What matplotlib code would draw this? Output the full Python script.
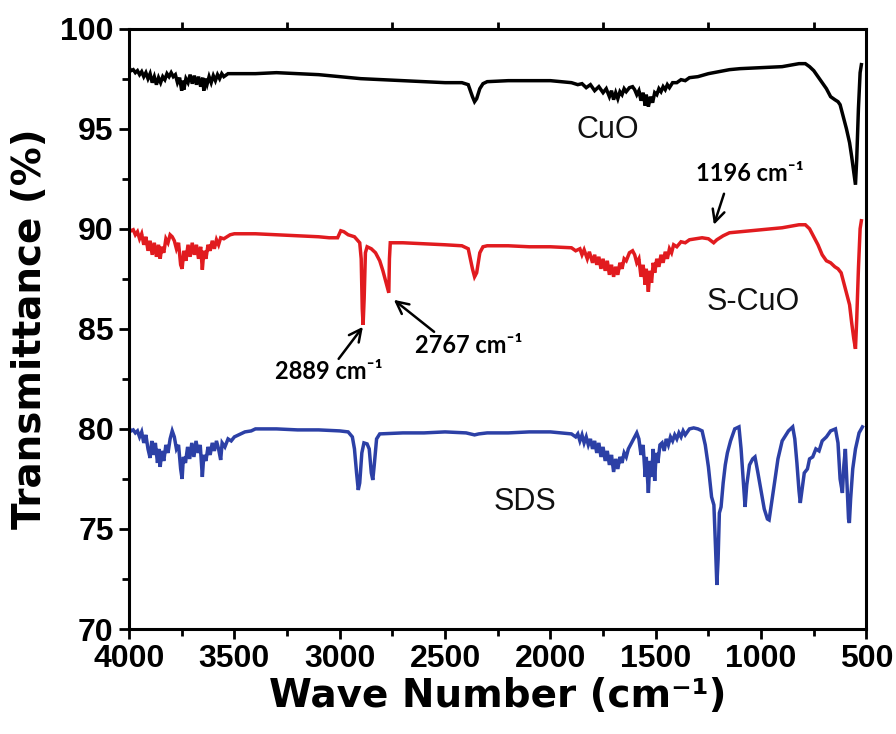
import matplotlib
matplotlib.use("Agg")
import matplotlib.pyplot as plt
from matplotlib.ticker import MultipleLocator

# FTIR spectra: (wave number cm-1, transmittance %)
cuo = [
    (4000, 98.05), (3990, 97.9), (3980, 97.95), (3970, 97.8), (3960, 97.9),
    (3950, 97.7), (3940, 97.85), (3930, 97.6), (3920, 97.8), (3910, 97.5),
    (3900, 97.75), (3890, 97.3), (3880, 97.6), (3870, 97.2), (3860, 97.55),
    (3850, 97.3), (3840, 97.6), (3830, 97.45), (3820, 97.75), (3810, 97.6),
    (3800, 97.8), (3790, 97.6), (3780, 97.7), (3770, 97.3), (3760, 97.55),
    (3750, 96.9), (3745, 97.4), (3740, 96.95), (3730, 97.5), (3720, 97.3),
    (3710, 97.7), (3700, 97.25), (3690, 97.65), (3680, 97.2), (3670, 97.6),
    (3660, 97.1), (3650, 97.55), (3645, 96.9), (3640, 97.5), (3630, 97.2),
    (3620, 97.6), (3610, 97.3), (3600, 97.65), (3590, 97.4), (3580, 97.7),
    (3570, 97.5), (3560, 97.75), (3550, 97.6), (3530, 97.75), (3500, 97.75),
    (3400, 97.75), (3300, 97.8), (3200, 97.75), (3100, 97.7), (3000, 97.6),
    (2900, 97.5), (2800, 97.45), (2700, 97.4), (2600, 97.35), (2500, 97.3),
    (2420, 97.3), (2390, 97.2), (2370, 96.6), (2360, 96.35), (2350, 96.5),
    (2335, 97.0), (2320, 97.25), (2300, 97.35), (2200, 97.4), (2100, 97.4),
    (2000, 97.4), (1950, 97.35), (1900, 97.3), (1870, 97.2), (1850, 97.25),
    (1830, 97.05), (1810, 97.2), (1790, 96.9), (1770, 97.1), (1750, 96.8),
    (1735, 97.0), (1720, 96.6), (1710, 96.9), (1700, 96.45), (1690, 96.8),
    (1680, 96.5), (1670, 96.85), (1660, 96.7), (1650, 97.0), (1640, 96.85),
    (1625, 97.05), (1610, 97.1), (1600, 96.95), (1590, 96.7), (1580, 96.9),
    (1570, 96.4), (1560, 96.8), (1550, 96.15), (1545, 96.7), (1535, 96.1),
    (1525, 96.6), (1515, 96.3), (1505, 96.8), (1495, 96.7), (1485, 97.0),
    (1475, 96.85), (1465, 97.1), (1455, 96.95), (1445, 97.2), (1435, 97.05),
    (1420, 97.3), (1400, 97.3), (1380, 97.45), (1360, 97.4), (1340, 97.55),
    (1300, 97.6), (1250, 97.75), (1200, 97.85), (1150, 97.95), (1100, 98.0),
    (1000, 98.05), (900, 98.1), (820, 98.25), (790, 98.25), (770, 98.1),
    (750, 97.9), (730, 97.6), (710, 97.3), (690, 97.0), (670, 96.6),
    (650, 96.45), (635, 96.35), (625, 96.2), (610, 95.6), (595, 95.0),
    (580, 94.3), (570, 93.6), (560, 92.8), (552, 92.2), (546, 93.5),
    (538, 96.0), (530, 97.8), (524, 98.2),
]

s_cuo = [
    (4000, 90.0), (3990, 89.9), (3980, 89.95), (3970, 89.7), (3960, 89.85),
    (3950, 89.5), (3940, 89.75), (3930, 89.2), (3920, 89.6), (3910, 88.9),
    (3900, 89.4), (3890, 88.7), (3880, 89.3), (3870, 88.6), (3860, 89.2),
    (3852, 88.5), (3845, 89.1), (3835, 88.8), (3825, 89.5), (3815, 89.3),
    (3805, 89.7), (3795, 89.6), (3785, 89.4), (3775, 89.0), (3765, 89.3),
    (3755, 88.2), (3748, 88.0), (3740, 88.9), (3730, 88.4), (3720, 89.2),
    (3710, 88.6), (3700, 89.3), (3690, 88.7), (3680, 89.2), (3670, 88.5),
    (3660, 89.1), (3652, 87.95), (3645, 88.9), (3635, 88.5), (3625, 89.2),
    (3615, 88.9), (3605, 89.4), (3595, 89.0), (3585, 89.45), (3575, 89.2),
    (3565, 89.55), (3550, 89.5), (3520, 89.7), (3500, 89.75), (3400, 89.75),
    (3300, 89.7), (3200, 89.65), (3100, 89.6), (3050, 89.55), (3010, 89.55),
    (2995, 89.9), (2980, 89.85), (2960, 89.7), (2930, 89.6), (2905, 89.3),
    (2898, 88.5), (2893, 86.0), (2889, 85.2), (2884, 86.5), (2878, 88.8),
    (2870, 89.1), (2850, 89.0), (2830, 88.8), (2810, 88.4), (2795, 87.9),
    (2780, 87.3), (2770, 86.9), (2767, 86.8), (2764, 88.5), (2760, 89.3),
    (2700, 89.3), (2600, 89.25), (2500, 89.2), (2420, 89.15), (2390, 89.0),
    (2370, 88.0), (2360, 87.6), (2350, 87.8), (2335, 88.8), (2320, 89.1),
    (2300, 89.15), (2200, 89.15), (2100, 89.1), (2000, 89.1), (1900, 89.05),
    (1880, 88.9), (1860, 89.0), (1850, 88.7), (1840, 88.95), (1825, 88.5),
    (1815, 88.85), (1800, 88.3), (1790, 88.7), (1780, 88.2), (1770, 88.6),
    (1760, 88.0), (1750, 88.5), (1740, 87.9), (1730, 88.4), (1720, 87.7),
    (1710, 88.2), (1700, 87.6), (1690, 88.1), (1680, 87.7), (1670, 88.3),
    (1660, 88.0), (1650, 88.5), (1640, 88.4), (1625, 88.8), (1610, 88.9),
    (1600, 88.7), (1590, 88.3), (1580, 88.5), (1570, 87.6), (1560, 88.2),
    (1550, 87.2), (1545, 88.0), (1535, 86.85), (1528, 87.9), (1520, 87.3),
    (1512, 88.3), (1505, 87.8), (1495, 88.5), (1485, 88.1), (1475, 88.7),
    (1465, 88.3), (1455, 88.85), (1445, 88.5), (1435, 89.0), (1425, 88.8),
    (1415, 89.2), (1400, 89.1), (1380, 89.35), (1360, 89.3), (1340, 89.45),
    (1310, 89.5), (1280, 89.55), (1250, 89.5), (1225, 89.3), (1210, 89.45),
    (1180, 89.65), (1150, 89.8), (1100, 89.85), (1000, 89.95), (900, 90.05),
    (820, 90.2), (790, 90.2), (770, 90.0), (750, 89.6), (730, 89.2),
    (710, 88.7), (690, 88.4), (670, 88.3), (650, 88.1), (635, 88.0),
    (620, 87.8), (605, 87.2), (590, 86.6), (580, 86.2), (570, 85.3),
    (560, 84.5), (552, 84.0), (546, 85.5), (538, 88.0), (530, 90.0),
    (524, 90.4),
]

sds = [
    (4000, 80.05), (3990, 79.9), (3980, 79.95), (3970, 79.8), (3960, 79.9),
    (3950, 79.6), (3940, 79.85), (3930, 79.3), (3920, 79.7), (3910, 79.0),
    (3900, 78.55), (3892, 79.4), (3885, 78.7), (3875, 79.3), (3865, 78.3),
    (3858, 79.0), (3852, 78.1), (3845, 78.9), (3835, 78.4), (3825, 79.2),
    (3815, 78.8), (3805, 79.5), (3795, 79.9), (3785, 79.6), (3775, 79.0),
    (3765, 79.2), (3755, 78.0), (3748, 77.5), (3742, 78.6), (3732, 78.3),
    (3722, 79.1), (3712, 78.5), (3702, 79.3), (3692, 78.6), (3682, 79.4),
    (3672, 78.8), (3662, 79.2), (3652, 77.6), (3645, 78.7), (3635, 78.4),
    (3625, 79.1), (3615, 78.7), (3605, 79.3), (3595, 78.9), (3585, 79.4),
    (3575, 79.0), (3565, 78.45), (3558, 79.3), (3545, 79.1), (3530, 79.5),
    (3515, 79.4), (3500, 79.6), (3480, 79.7), (3450, 79.85), (3420, 79.9),
    (3400, 80.0), (3300, 80.0), (3200, 79.95), (3100, 79.95), (3000, 79.9),
    (2960, 79.85), (2940, 79.6), (2930, 79.0), (2920, 77.8), (2912, 76.95),
    (2905, 77.3), (2895, 78.8), (2885, 79.3), (2870, 79.25), (2860, 79.0),
    (2850, 77.8), (2843, 77.45), (2836, 78.2), (2825, 79.5), (2810, 79.75),
    (2700, 79.8), (2600, 79.8), (2500, 79.85), (2400, 79.8), (2360, 79.7),
    (2340, 79.75), (2300, 79.8), (2200, 79.8), (2100, 79.85), (2000, 79.85),
    (1950, 79.8), (1900, 79.75), (1880, 79.6), (1870, 79.75), (1860, 79.4),
    (1850, 79.7), (1840, 79.3), (1830, 79.6), (1820, 79.2), (1810, 79.5),
    (1800, 79.0), (1790, 79.4), (1780, 78.8), (1770, 79.3), (1760, 78.6),
    (1750, 79.1), (1740, 78.4), (1730, 78.9), (1720, 78.2), (1710, 78.7),
    (1700, 77.85), (1690, 78.5), (1680, 78.0), (1670, 78.6), (1660, 78.3),
    (1650, 78.8), (1640, 78.6), (1630, 79.0), (1615, 79.3), (1600, 79.6),
    (1590, 79.8), (1580, 79.5), (1570, 78.7), (1560, 79.2), (1550, 77.6),
    (1545, 78.6), (1535, 76.8), (1528, 78.4), (1520, 77.6), (1512, 79.0),
    (1505, 77.4), (1498, 78.8), (1490, 78.3), (1480, 79.2), (1470, 79.3),
    (1460, 78.9), (1450, 79.5), (1440, 79.2), (1430, 79.6), (1420, 79.4),
    (1410, 79.7), (1400, 79.5), (1390, 79.8), (1380, 79.6), (1370, 79.9),
    (1360, 79.7), (1340, 80.0), (1320, 80.05), (1300, 80.0), (1280, 79.9),
    (1265, 79.2), (1250, 78.1), (1235, 76.6), (1224, 76.2), (1216, 74.0),
    (1210, 72.2), (1204, 73.5), (1198, 75.8), (1190, 76.1), (1180, 77.3),
    (1170, 78.2), (1160, 78.8), (1145, 79.4), (1125, 80.0), (1105, 80.1),
    (1095, 79.0), (1085, 77.5), (1076, 76.1), (1068, 77.2), (1055, 78.2),
    (1040, 78.5), (1029, 78.6), (1015, 77.8), (1000, 76.9), (985, 76.0),
    (970, 75.5), (962, 75.45), (950, 76.3), (935, 77.4), (920, 78.5),
    (900, 79.4), (870, 79.9), (850, 80.1), (840, 79.5), (830, 78.3),
    (820, 76.9), (814, 76.3), (805, 77.0), (795, 77.8), (780, 78.0),
    (770, 78.5), (755, 78.6), (740, 79.0), (725, 78.9), (710, 79.4),
    (690, 79.6), (670, 79.9), (647, 80.0), (635, 79.3), (625, 77.5),
    (614, 76.8), (607, 78.2), (600, 79.0), (592, 77.2), (585, 75.5),
    (581, 75.3), (575, 76.5), (565, 78.0), (552, 79.0), (535, 79.8),
    (519, 80.1),
]

series_names = ["CuO", "S-CuO", "SDS"]
series_colors = ["black", "#e11b1f", "#2c40a6"]

# text label positions (wave number, transmittance)
name_positions = [(1729, 94.95), (1038, 86.35), (2119, 76.35)]

# peak annotations: text, text position, arrow tail, arrow tip
peak_labels = ["2889 cm\u207b\u00b9", "2767 cm\u207b\u00b9", "1196 cm\u207b\u00b9"]
peak_text_xy = [(3052, 82.85), (2386, 84.15), (1052, 92.75)]
peak_tail_xy = [(3005, 83.5), (2552, 84.85), (1176, 91.75)]
peak_tip_xy = [(2890, 85.1), (2743, 86.45), (1224, 90.2)]

fig = plt.figure(figsize=(8.96, 7.34), dpi=100)
ax = fig.add_axes([0.144, 0.143, 0.823, 0.818])

for data, color in zip([cuo, s_cuo, sds], series_colors):
    wn, t = zip(*data)
    ax.plot(wn, t, color=color, lw=2.5, solid_joinstyle="miter")

for name, (x, y) in zip(series_names, name_positions):
    ax.text(x, y, name, ha="center", va="center", fontsize=22,
            family="Liberation Sans", color="#111111")

for label, txt, tail, tip in zip(peak_labels, peak_text_xy, peak_tail_xy, peak_tip_xy):
    ax.text(txt[0], txt[1], label, ha="center", va="center", fontsize=17,
            family=["Lato", "DejaVu Sans"], fontweight="bold")
    ax.annotate("", xy=tip, xytext=tail,
                arrowprops=dict(arrowstyle="->", lw=1.8, color="black",
                                mutation_scale=22, shrinkA=0, shrinkB=0))

ax.set_xlim(4000, 500)
ax.set_ylim(70, 100)
ax.xaxis.set_major_locator(MultipleLocator(500))
ax.xaxis.set_minor_locator(MultipleLocator(250))
ax.yaxis.set_major_locator(MultipleLocator(5))
ax.yaxis.set_minor_locator(MultipleLocator(2.5))

for side in ax.spines.values():
    side.set_linewidth(2.2)

ax.tick_params(axis="both", which="both", direction="out", width=2.0)
ax.tick_params(axis="both", which="major", length=7, pad=4)
ax.tick_params(axis="both", which="minor", length=5)
ax.tick_params(axis="x", which="minor", top=True)
ax.tick_params(axis="x", which="major", top=False)
ax.tick_params(axis="y", which="both", right=False)

for lab in ax.get_xticklabels() + ax.get_yticklabels():
    lab.set_family("Liberation Sans")
    lab.set_fontweight("bold")
    lab.set_fontsize(23)

ax.set_xlabel("Wave Number (cm\u207b\u00b9)", fontsize=28, fontweight="bold",
              family="DejaVu Sans", labelpad=2)
ax.set_ylabel("Transmittance (%)", fontsize=28, fontweight="bold",
              family="DejaVu Sans", labelpad=8)

fig.savefig("out.png", dpi=100, facecolor="white")
